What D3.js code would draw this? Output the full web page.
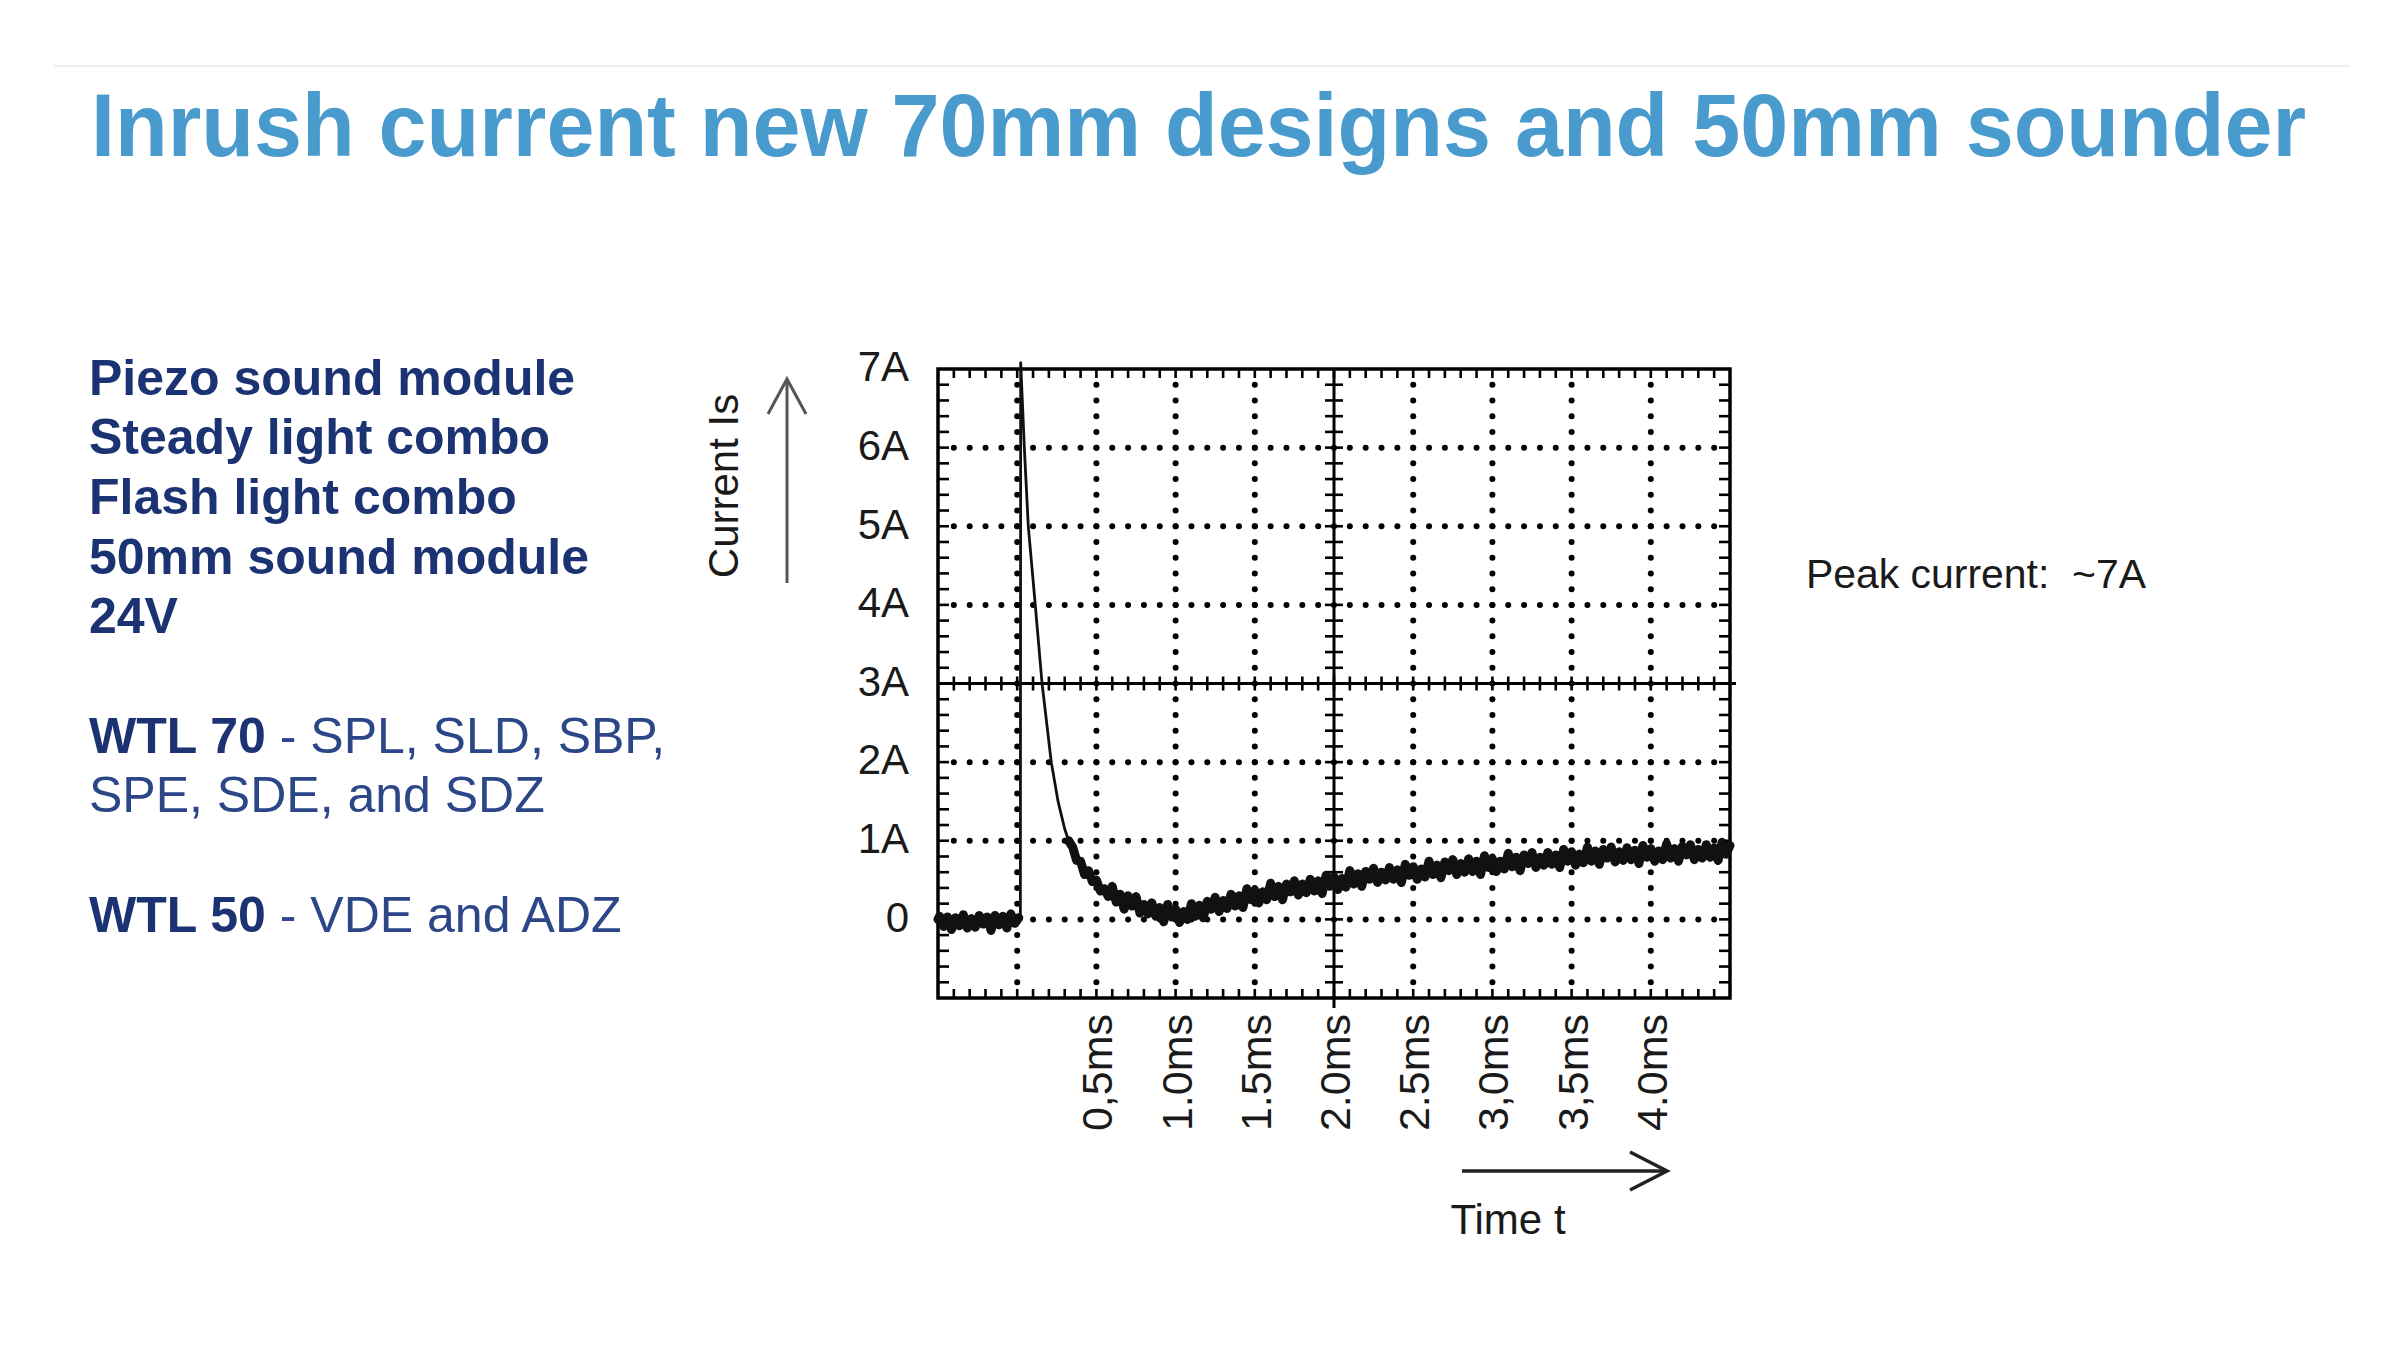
<!DOCTYPE html>
<html>
<head>
<meta charset="utf-8">
<script src="https://cdn.jsdelivr.net/npm/d3@7"></script>
<style>
  body { margin: 0; background: #fff; }
  text { font-family: "Liberation Sans", Arial, Helvetica, sans-serif; }
</style>
</head>
<body>
<svg id="chart" width="2400" height="1350"></svg>
<script>
// ---------------- DATA ----------------
const titleText = "Inrush current new 70mm designs and 50mm sounder";

// left description block: each line is a list of [text, isBold]
const infoLines = [
  [["Piezo sound module", true]],
  [["Steady light combo", true]],
  [["Flash light combo", true]],
  [["50mm sound module", true]],
  [["24V", true]],
  [],
  [["WTL 70", true], [" - SPL, SLD, SBP,", false]],
  [["SPE, SDE, and SDZ", false]],
  [],
  [["WTL 50", true], [" - VDE and ADZ", false]]
];

const yTickValues = [0, 1, 2, 3, 4, 5, 6, 7];
const yTickLabels = ["0", "1A", "2A", "3A", "4A", "5A", "6A", "7A"];
const xTickValues = [0.5, 1.0, 1.5, 2.0, 2.5, 3.0, 3.5, 4.0];
const xTickLabels = ["0,5ms", "1.0ms", "1.5ms", "2.0ms", "2.5ms", "3,0ms", "3,5ms", "4.0ms"];
const xDomain = [-0.5, 4.5];   // ms (10 divisions of 0.5 ms)
const yDomain = [-1, 7];       // A  (8 divisions of 1 A)
const xMajorDotted = [0, 0.5, 1.0, 1.5, 2.5, 3.0, 3.5, 4.0];
const yMajorDotted = [0, 1, 2, 4, 5, 6];
const xCenter = 2.0, yCenter = 3;

const yAxisTitle = "Current Is";
const xAxisTitle = "Time t";
const peakNote = "Peak current:  ~7A";

// oscilloscope trace (time in ms, current in A)
const timeMs = [
  -0.5,-0.49,-0.465,-0.44,-0.415,-0.39,-0.365,-0.34,-0.315,-0.29,-0.265,
  -0.24,-0.215,-0.19,-0.165,-0.14,-0.115,-0.09,-0.065,-0.04,-0.015,0.01,
  0.02,0.022,0.045,0.07,0.114,0.157,0.215,0.258,0.3,0.325,
  0.35,0.375,0.4,0.425,0.45,0.475,0.5,0.525,0.55,0.575,
  0.6,0.625,0.65,0.675,0.7,0.725,0.75,0.775,0.8,0.825,
  0.85,0.875,0.9,0.925,0.95,0.975,1.0,1.025,1.05,1.075,
  1.1,1.125,1.15,1.175,1.2,1.225,1.25,1.275,1.3,1.325,
  1.35,1.375,1.4,1.425,1.45,1.475,1.5,1.525,1.55,1.575,
  1.6,1.625,1.65,1.675,1.7,1.725,1.75,1.775,1.8,1.825,
  1.85,1.875,1.9,1.925,1.95,1.975,2.0,2.025,2.05,2.075,
  2.1,2.125,2.15,2.175,2.2,2.225,2.25,2.275,2.3,2.325,
  2.35,2.375,2.4,2.425,2.45,2.475,2.5,2.525,2.55,2.575,
  2.6,2.625,2.65,2.675,2.7,2.725,2.75,2.775,2.8,2.825,
  2.85,2.875,2.9,2.925,2.95,2.975,3.0,3.025,3.05,3.075,
  3.1,3.125,3.15,3.175,3.2,3.225,3.25,3.275,3.3,3.325,
  3.35,3.375,3.4,3.425,3.45,3.475,3.5,3.525,3.55,3.575,
  3.6,3.625,3.65,3.675,3.7,3.725,3.75,3.775,3.8,3.825,
  3.85,3.875,3.9,3.925,3.95,3.975,4.0,4.025,4.05,4.075,
  4.1,4.125,4.15,4.175,4.2,4.225,4.25,4.275,4.3,4.325,
  4.35,4.375,4.4,4.425,4.45,4.475,4.5
];
const currentA = [
  0.0,0.04,-0.09,0.03,-0.13,0.02,-0.08,0.06,-0.11,0.01,-0.10,
  0.05,-0.06,0.03,-0.14,0.05,-0.07,0.04,-0.11,0.07,-0.05,0.02,
  0.0,7.08,6.0,5.0,4.0,3.0,2.0,1.5,1.15,1.0,
  0.92,0.75,0.74,0.57,0.62,0.48,0.50,0.36,0.39,0.29,
  0.42,0.22,0.32,0.13,0.30,0.17,0.29,0.08,0.19,0.07,
  0.21,0.04,0.15,-0.03,0.19,0.03,0.13,-0.04,0.10,0.00,
  0.20,0.04,0.18,0.02,0.23,0.13,0.28,0.10,0.24,0.14,
  0.32,0.17,0.30,0.15,0.39,0.25,0.37,0.21,0.35,0.25,
  0.46,0.29,0.42,0.25,0.45,0.35,0.49,0.31,0.45,0.34,
  0.51,0.36,0.49,0.33,0.56,0.42,0.54,0.38,0.52,0.41,
  0.62,0.45,0.58,0.42,0.61,0.51,0.65,0.47,0.60,0.50,
  0.66,0.51,0.63,0.47,0.70,0.56,0.67,0.51,0.64,0.54,
  0.74,0.57,0.69,0.53,0.73,0.62,0.76,0.57,0.71,0.60,
  0.77,0.61,0.74,0.57,0.81,0.66,0.77,0.61,0.74,0.64,
  0.84,0.67,0.79,0.62,0.82,0.71,0.85,0.66,0.79,0.69,
  0.85,0.70,0.82,0.66,0.89,0.74,0.86,0.69,0.83,0.72,
  0.92,0.74,0.87,0.70,0.89,0.78,0.92,0.73,0.86,0.75,
  0.91,0.76,0.88,0.71,0.94,0.79,0.90,0.74,0.87,0.76,
  0.96,0.78,0.90,0.74,0.93,0.82,0.95,0.76,0.89,0.78,
  0.95,0.79,0.91,0.75,0.98,0.83,0.94
];
// trace sections: noisy pre-trigger, clean inrush spike/decay, noisy settling
const preTriggerEnd = 0.01, spikeEnd = 0.35;

// ---------------- DRAW ----------------
const svg = d3.select("#chart");
svg.append("rect").attr("width", 2400).attr("height", 1350).attr("fill", "#fff");

// faint header rule
svg.append("line").attr("x1", 54).attr("x2", 2350).attr("y1", 66).attr("y2", 66)
  .attr("stroke", "#eeeeee").attr("stroke-width", 2);

// title
svg.append("text").attr("x", 91).attr("y", 156)
  .attr("font-size", 89).attr("font-weight", "bold").attr("fill", "#4a9bcd")
  .attr("textLength", 2215).attr("lengthAdjust", "spacingAndGlyphs")
  .text(titleText);

// left info block
const infoG = svg.append("g");
const lineBaselines = [395, 454, 514, 574, 633, 693, 753, 812, 872, 932];
infoLines.forEach((segs, i) => {
  if (!segs.length) return;
  const t = infoG.append("text").attr("x", 89).attr("y", lineBaselines[i])
    .attr("font-size", 50).style("white-space", "pre");
  segs.forEach(([s, b]) => {
    t.append("tspan").text(s)
      .attr("font-weight", b ? "bold" : "normal")
      .attr("fill", b ? "#1b3372" : "#2c4788");
  });
});

// scales
const x = d3.scaleLinear().domain(xDomain).range([938, 1730]);
const y = d3.scaleLinear().domain(yDomain).range([998, 369]);
const [X0, X1] = x.range();
const [Y0, Y1] = y.range(); // Y0 bottom, Y1 top

const grid = svg.append("g");
const minorX = d3.range(0, 51).map(i => xDomain[0] + i * 0.1);
const minorY = d3.range(0, 41).map(i => yDomain[0] + i * 0.2);

// dotted major grid lines
xMajorDotted.forEach(v => {
  minorY.slice(1, -1).forEach(w => {
    grid.append("circle").attr("cx", x(v)).attr("cy", y(w)).attr("r", 3).attr("fill", "#000");
  });
});
yMajorDotted.forEach(w => {
  minorX.slice(1, -1).forEach(v => {
    grid.append("circle").attr("cx", x(v)).attr("cy", y(w)).attr("r", 3).attr("fill", "#000");
  });
});

// center cross (solid) with ticks
grid.append("line").attr("x1", x(xCenter)).attr("x2", x(xCenter)).attr("y1", Y1).attr("y2", Y0 + 10)
  .attr("stroke", "#000").attr("stroke-width", 3);
grid.append("line").attr("x1", X0).attr("x2", X1 + 6).attr("y1", y(yCenter)).attr("y2", y(yCenter))
  .attr("stroke", "#000").attr("stroke-width", 3);
minorY.slice(1, -1).forEach(w => {
  grid.append("line").attr("x1", x(xCenter) - 9).attr("x2", x(xCenter) + 9)
    .attr("y1", y(w)).attr("y2", y(w)).attr("stroke", "#000").attr("stroke-width", 2.6);
});
minorX.slice(1, -1).forEach(v => {
  grid.append("line").attr("x1", x(v)).attr("x2", x(v))
    .attr("y1", y(yCenter) - 7).attr("y2", y(yCenter) + 7).attr("stroke", "#000").attr("stroke-width", 2.6);
});

// border ticks
minorX.slice(1, -1).forEach(v => {
  grid.append("line").attr("x1", x(v)).attr("x2", x(v)).attr("y1", Y1).attr("y2", Y1 + 9)
    .attr("stroke", "#000").attr("stroke-width", 2.6);
  grid.append("line").attr("x1", x(v)).attr("x2", x(v)).attr("y1", Y0).attr("y2", Y0 - 9)
    .attr("stroke", "#000").attr("stroke-width", 2.6);
});
minorY.slice(1, -1).forEach(w => {
  grid.append("line").attr("x1", X0).attr("x2", X0 + 11).attr("y1", y(w)).attr("y2", y(w))
    .attr("stroke", "#000").attr("stroke-width", 2.6);
  grid.append("line").attr("x1", X1).attr("x2", X1 - 11).attr("y1", y(w)).attr("y2", y(w))
    .attr("stroke", "#000").attr("stroke-width", 2.6);
});

// border
grid.append("rect").attr("x", X0).attr("y", Y1).attr("width", X1 - X0).attr("height", Y0 - Y1)
  .attr("fill", "none").attr("stroke", "#000").attr("stroke-width", 3.5);

// trace
const traceData = timeMs.map((t, i) => ({ t, a: currentA[i] }));
const line = d3.line().x(d => x(d.t)).y(d => y(d.a));
const sections = [
  { data: traceData.filter(d => d.t <= preTriggerEnd), w: 9 },
  { data: traceData.filter(d => d.t >= preTriggerEnd && d.t <= spikeEnd), w: 2.8 },
  { data: traceData.filter(d => d.t >= 0.325), w: 9 }
];
sections.forEach(s => {
  svg.append("path").datum(s.data).attr("d", line)
    .attr("fill", "none").attr("stroke", "#111").attr("stroke-width", s.w)
    .attr("stroke-linejoin", "round").attr("stroke-linecap", "round");
});

// y axis labels
const yAxis = d3.axisLeft(y).tickValues(yTickValues)
  .tickFormat((d, i) => yTickLabels[i]).tickSize(0).tickPadding(29);
const yg = svg.append("g").attr("transform", `translate(${X0},0)`).call(yAxis);
yg.select(".domain").remove();
yg.selectAll("text").attr("font-size", 42).attr("fill", "#1a1a1a").attr("dy", "0.28em")
  .attr("font-family", "'Liberation Sans', Arial, sans-serif");

// x axis labels (rotated)
const xAxis = d3.axisBottom(x).tickValues(xTickValues)
  .tickFormat((d, i) => xTickLabels[i]).tickSize(0);
const xg = svg.append("g").attr("transform", `translate(0,${Y0})`).call(xAxis);
xg.select(".domain").remove();
xg.selectAll("text")
  .attr("font-size", 43).attr("fill", "#1a1a1a")
  .attr("font-family", "'Liberation Sans', Arial, sans-serif")
  .attr("transform", "rotate(-90)")
  .attr("text-anchor", "end")
  .attr("x", -16).attr("y", 0).attr("dy", "0.36em");

// y axis title + arrow
svg.append("text").attr("transform", "translate(738,486) rotate(-90)")
  .attr("text-anchor", "middle").attr("font-size", 42).attr("fill", "#1a1a1a")
  .text(yAxisTitle);
svg.append("line").attr("x1", 787).attr("x2", 787).attr("y1", 583).attr("y2", 380)
  .attr("stroke", "#555").attr("stroke-width", 3);
svg.append("polyline").attr("points", "768,414 787,379 806,414")
  .attr("fill", "none").attr("stroke", "#555").attr("stroke-width", 3);

// x axis title + arrow
svg.append("line").attr("x1", 1462).attr("x2", 1666).attr("y1", 1171).attr("y2", 1171)
  .attr("stroke", "#222").attr("stroke-width", 3.5);
svg.append("polyline").attr("points", "1630,1152 1667,1171 1630,1190")
  .attr("fill", "none").attr("stroke", "#222").attr("stroke-width", 3.5);
svg.append("text").attr("x", 1508).attr("y", 1234).attr("text-anchor", "middle")
  .attr("font-size", 42).attr("fill", "#1a1a1a").text(xAxisTitle);

// peak annotation
svg.append("text").attr("x", 1806).attr("y", 588).attr("font-size", 41)
  .attr("fill", "#1a1a1a").style("white-space", "pre")
  .attr("textLength", 340).attr("lengthAdjust", "spacingAndGlyphs")
  .text(peakNote);
</script>
</body>
</html>
